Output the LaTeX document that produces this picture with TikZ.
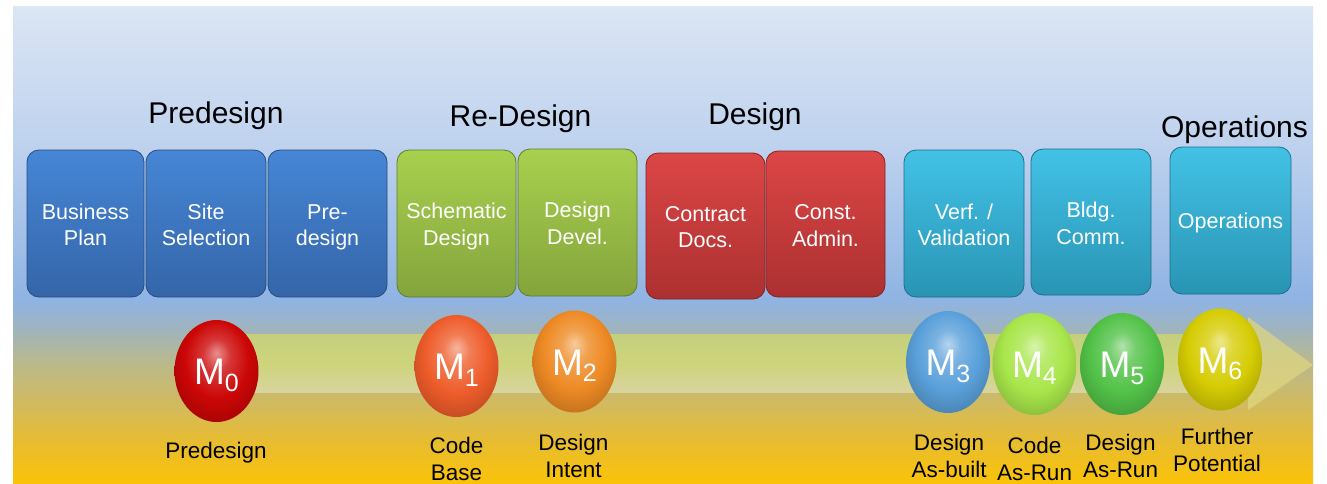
\documentclass[tikz,border=0pt]{standalone}
\usepackage{fontspec}
\setmainfont{Liberation Sans}
\usetikzlibrary{shapes.geometric}

% backdrop palette
\definecolor{skyTop}{HTML}{DCE6F4}
\definecolor{skyMid}{HTML}{BDD1EE}
\definecolor{skyLow}{HTML}{8FB3E3}
\definecolor{haze}{HTML}{A0B4BC}
\definecolor{dusk}{HTML}{B8B98E}
\definecolor{sandA}{HTML}{CFBA64}
\definecolor{sandB}{HTML}{E7BC32}
\definecolor{sandC}{HTML}{FAC308}

% stage box palette
\definecolor{blueTop}{HTML}{4686D6}
\definecolor{blueBot}{HTML}{3465A8}
\definecolor{greenTop}{HTML}{A8D04E}
\definecolor{greenBot}{HTML}{84A43C}
\definecolor{redTop}{HTML}{DC4646}
\definecolor{redBot}{HTML}{AC3030}
\definecolor{cyanTop}{HTML}{42C2E6}
\definecolor{cyanBot}{HTML}{2994B4}

% milestone palette
\definecolor{mRed}{HTML}{CC0606}
\definecolor{mOrangeRed}{HTML}{EE5C2A}
\definecolor{mOrange}{HTML}{EE8A24}
\definecolor{mBlue}{HTML}{5AA0DA}
\definecolor{mLime}{HTML}{A8E64A}
\definecolor{mGreen}{HTML}{52C248}
\definecolor{mYellow}{HTML}{D6CC04}

% timeline band
\definecolor{bandTop}{HTML}{C4CF7E}
\definecolor{bandMid}{HTML}{CDD47A}
\definecolor{bandBot}{HTML}{D8D49E}
\definecolor{headFill}{HTML}{E0D882}

\pgfdeclareverticalshading{backdrop}{100bp}{%
  color(0bp)=(sandC); color(25bp)=(sandC); color(29.5bp)=(sandB);
  color(33.7bp)=(sandA); color(37.9bp)=(dusk); color(41bp)=(haze);
  color(44.2bp)=(skyLow); color(59.9bp)=(skyMid); color(75bp)=(skyTop);
  color(100bp)=(skyTop)}

\colorlet{gloss}{red}
\pgfdeclareradialshading[gloss]{glossball}{\pgfpoint{0bp}{9bp}}{%
  color(0bp)=(gloss!45!white); color(8bp)=(gloss!80!white);
  color(19bp)=(gloss); color(30bp)=(gloss!82!black);
  color(50bp)=(gloss!75!black)}

\newcommand{\msub}[1]{\raisebox{-6.5pt}{\fontsize{25}{25}\selectfont #1}}

\begin{document}
\begin{tikzpicture}[x=1pt,y=-1pt,
  stage/.style n args={2}{rounded corners=12pt, draw=#2!75!black, line width=0.8pt,
    top color=#1, bottom color=#2, inner sep=0pt, outer sep=0pt},
  bluebox/.style={stage={blueTop}{blueBot}},
  greenbox/.style={stage={greenTop}{greenBot}},
  redbox/.style={stage={redTop}{redBot}},
  cyanbox/.style={stage={cyanTop}{cyanBot}},
  % stage text: placed on the baseline of its last line
  stagetext/.style={anchor=base, align=center, text=white, inner sep=0pt,
    font=\fontsize{21.5}{26.7}\selectfont},
  phase/.style={anchor=base, font=\fontsize{30}{34}\selectfont, text=black},
  glosscol/.code={\colorlet{gloss}{#1}},
  milestone/.style={ellipse, glosscol=#1, shading=glossball, inner sep=0pt,
    minimum width=84, minimum height=102, text=white,
    text height=27pt, text depth=0pt, font=\fontsize{37}{37}\selectfont},
  caption/.style={anchor=base, align=center, text=black,
    font=\fontsize{22.5}{26.5}\selectfont}]

\useasboundingbox (0,0) rectangle (1327,483);

% sky-to-sand backdrop
\shade[shading=backdrop] (13,6) rectangle (1313,483);

% timeline band and arrow head
\shade[top color=bandTop, bottom color=bandBot, middle color=bandMid]
  (230,334) rectangle (1250,392);
\fill[headFill, opacity=0.7] (1248,317) -- (1313,365) -- (1248,410) -- cycle;

% phase titles
\node[phase] (tpre) at (216,123) {Predesign};
\node[phase] (tred) at (520.5,126) {Re-Design};
\node[phase] (tdes) at (755,124.5) {Design};
\node[phase] (tops) at (1234.5,137) {Operations};

% stage boxes
\node[bluebox, minimum width=117, minimum height=147] (bp) at (85.5,223.5) {};
\node[bluebox, minimum width=120, minimum height=147] (ss) at (206,223.5) {};
\node[bluebox, minimum width=119, minimum height=147] (pd) at (327.5,223.5) {};
\node[greenbox, minimum width=119, minimum height=147] (sd) at (456.5,223.5) {};
\node[greenbox, minimum width=119, minimum height=147] (dd) at (577.5,222.5) {};
\node[redbox, minimum width=119, minimum height=146] (cd) at (705.5,226) {};
\node[redbox, minimum width=119, minimum height=146] (ca) at (825.5,224) {};
\node[cyanbox, minimum width=120, minimum height=147] (vv) at (964,223.5) {};
\node[cyanbox, minimum width=120, minimum height=146] (bc) at (1091,222) {};
\node[cyanbox, minimum width=121, minimum height=147] (op) at (1230.5,220.5) {};

% stage labels
\node[stagetext] (bp-t) at (bp.center |- 0,245.7) {Business\\Plan};
\node[stagetext] (ss-t) at (ss.center |- 0,245.7) {Site\\Selection};
\node[stagetext] (pd-t) at (pd.center |- 0,245.7) {Pre-\\design};
\node[stagetext] (sd-t) at (sd.center |- 0,245.2) {Schematic\\Design};
\node[stagetext] (dd-t) at (dd.center |- 0,244.5) {Design\\Devel.};
\node[stagetext] (cd-t) at (cd.center |- 0,247.7) {Contract\\Docs.};
\node[stagetext] (ca-t) at (ca.center |- 0,246.2) {Const.\\Admin.};
\node[stagetext] (vv-t) at (vv.center |- 0,245.7) {Verf. /\\Validation};
\node[stagetext] (bc-t) at (bc.center |- 0,244) {Bldg.\\Comm.};
\node[stagetext] (op-t) at (op.center |- 0,228.7) {Operations};

% milestones
\node[milestone=mRed] (m0) at (216.5,371) {M\msub{0}};
\node[milestone=mOrangeRed] (m1) at (456.5,366) {M\msub{1}};
\node[milestone=mOrange] (m2) at (574.5,361.5) {M\msub{2}};
\node[milestone=mBlue] (m3) at (948,362) {M\msub{3}};
\node[milestone=mLime] (m4) at (1034.5,364) {M\msub{4}};
\node[milestone=mGreen] (m5) at (1122,364) {M\msub{5}};
\node[milestone=mYellow] (m6) at (1220,359.5) {M\msub{6}};

% milestone captions (base anchor sits on the last line)
\node[caption] (c0) at (216,458) {Predesign};
\node[caption] (c1) at (456.5,480) {Code\\Base};
\node[caption] (c2) at (573.5,477) {Design\\Intent};
\node[caption] (c3) at (949,477) {Design\\As-built};
\node[caption] (c4) at (1034.5,480) {Code\\As-Run};
\node[caption] (c5) at (1120.5,477) {Design\\As-Run};
\node[caption] (c6) at (1217,471) {Further\\Potential};
\end{tikzpicture}
\end{document}
